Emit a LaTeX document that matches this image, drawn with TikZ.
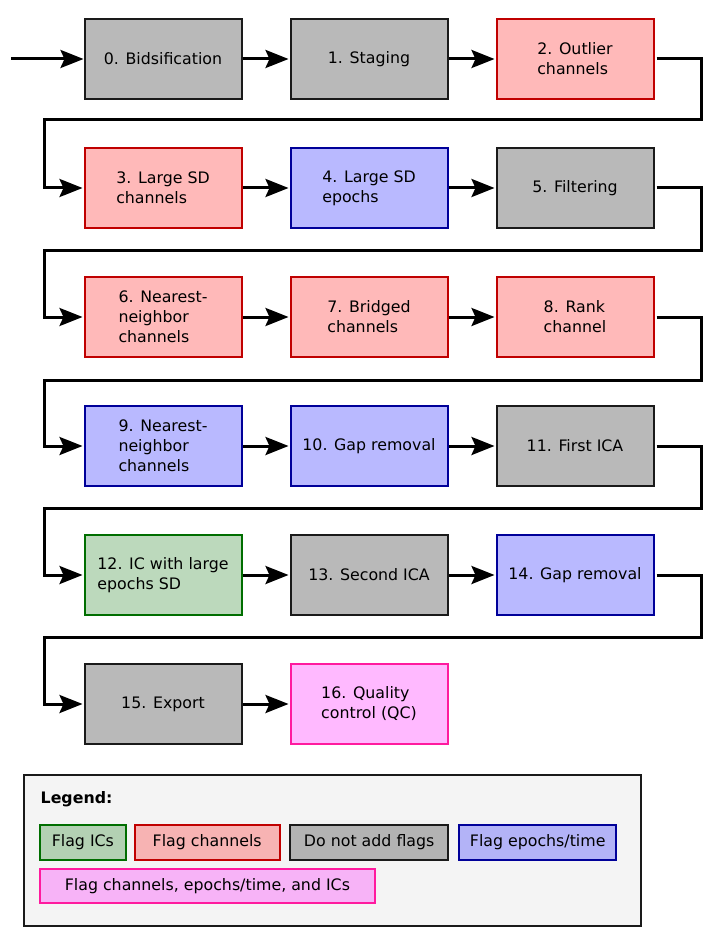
\documentclass[tikz,border=0pt]{standalone}
\usepackage{fontspec}
\setmainfont{DejaVu Sans}
\usetikzlibrary{arrows.meta}

% Category colours: fill / border
\definecolor{grayF}{HTML}{B9B9B9}\definecolor{grayD}{HTML}{1A1A1A}
\definecolor{redF}{HTML}{FFB9B9}\definecolor{redD}{HTML}{C00000}
\definecolor{blueF}{HTML}{B9B9FF}\definecolor{blueD}{HTML}{000099}
\definecolor{greenF}{HTML}{BCD9BC}\definecolor{greenD}{HTML}{006E00}
\definecolor{pinkF}{HTML}{FFB9FF}\definecolor{pinkD}{HTML}{FF1A9E}
% Slightly muted variants used inside the legend panel
\definecolor{lgrayF}{HTML}{B3B3B3}
\definecolor{lredF}{HTML}{F7B3B3}
\definecolor{lblueF}{HTML}{B3B3F7}
\definecolor{lgreenF}{HTML}{B3D1B3}
\definecolor{lpinkF}{HTML}{F7B3F7}
\definecolor{panel}{HTML}{F4F4F4}

\begin{document}
\begin{tikzpicture}[x=1pt,y=-1pt,
  txt/.style={font=\fontsize{15.8}{20}\selectfont},
  stage/.style={txt, rectangle, line width=2pt, minimum width=157pt,
                minimum height=80.5pt, inner sep=0pt, align=left},
  plain/.style={stage, fill=grayF, draw=grayD},
  chan/.style={stage, fill=redF, draw=redD},
  epo/.style={stage, fill=blueF, draw=blueD},
  icf/.style={stage, fill=greenF, draw=greenD},
  allf/.style={stage, fill=pinkF, draw=pinkD},
  key/.style={txt, rectangle, line width=2pt, minimum height=35pt, inner sep=0pt},
  flow/.style={line width=3pt, line join=miter,
               -{Stealth[length=23pt,width=18pt,inset=4pt]}},
]
\useasboundingbox (0,0) rectangle (726,941);

% Pipeline stages (three columns, six rows)
\node[plain] (n0)  at (163,59)  {0. Bidsification};
\node[plain] (n1)  at (369,59)  {1. Staging};
\node[chan]  (n2)  at (575,59)  {2. Outlier\\channels};
\node[chan]  (n3)  at (163,188) {3. Large SD\\channels};
\node[epo]   (n4)  at (369,188) {4. Large SD\\epochs};
\node[plain] (n5)  at (575,188) {5. Filtering};
\node[chan]  (n6)  at (163,317) {6. Nearest-\\neighbor\\channels};
\node[chan]  (n7)  at (369,317) {7. Bridged\\channels};
\node[chan]  (n8)  at (575,317) {8. Rank\\channel};
\node[epo]   (n9)  at (163,446) {9. Nearest-\\neighbor\\channels};
\node[epo]   (n10) at (369,446) {10. Gap removal};
\node[plain] (n11) at (575,446) {11. First ICA};
\node[icf]   (n12) at (163,575) {12. IC with large\\epochs SD};
\node[plain] (n13) at (369,575) {13. Second ICA};
\node[epo]   (n14) at (575,575) {14. Gap removal};
\node[plain] (n15) at (163,704) {15. Export};
\node[allf]  (n16) at (369,704) {16. Quality\\control (QC)};

% Entry arrow
\coordinate (in) at (11,59);
\draw[flow] (in) -- (n0.west);

% Arrows within a row
\foreach \a/\b in {n0/n1,n1/n2,n3/n4,n4/n5,n6/n7,n7/n8,n9/n10,n10/n11,
                   n12/n13,n13/n14,n15/n16}
  \draw[flow] (\a.east) -- ([xshift=-1pt]\b.west);

% Wrap-around connectors from the end of one row to the start of the next
\foreach \a/\b/\y in {n2/n3/119.5, n5/n6/250, n8/n9/380, n11/n12/508.5, n14/n15/637}{
  \coordinate (r\a) at (701,\y);
  \coordinate (l\a) at (44.5,\y);
  \draw[flow] ([xshift=2pt]\a.east) -| (r\a) -- (l\a) |- ([xshift=-1pt]\b.west);
}

% Legend panel
\node[rectangle, draw=grayD, fill=panel, line width=2pt, inner sep=0pt,
      minimum width=617pt, minimum height=151pt] (legend) at (332.5,850.5) {};
\node[txt, anchor=west, inner sep=0pt, font=\fontsize{15.8}{20}\selectfont\bfseries]
  (legtitle) at (40.5,799) {Legend:};
\node[key, fill=lgreenF, draw=greenD, minimum width=85.7pt] (k1) at (82.9,842.5) {Flag ICs};
\node[key, fill=lredF, draw=redD, minimum width=145pt] (k2) at (207.2,842.5) {Flag channels};
\node[key, fill=lgrayF, draw=grayD, minimum width=157.7pt] (k3) at (369.2,842.5) {Do not add flags};
\node[key, fill=lblueF, draw=blueD, minimum width=157.3pt] (k4) at (537.7,842.5) {Flag epochs/time};
\node[key, fill=lpinkF, draw=pinkD, minimum width=334.7pt, minimum height=34pt]
  (k5) at (207.4,886) {Flag channels, epochs/time, and ICs};
\end{tikzpicture}
\end{document}
